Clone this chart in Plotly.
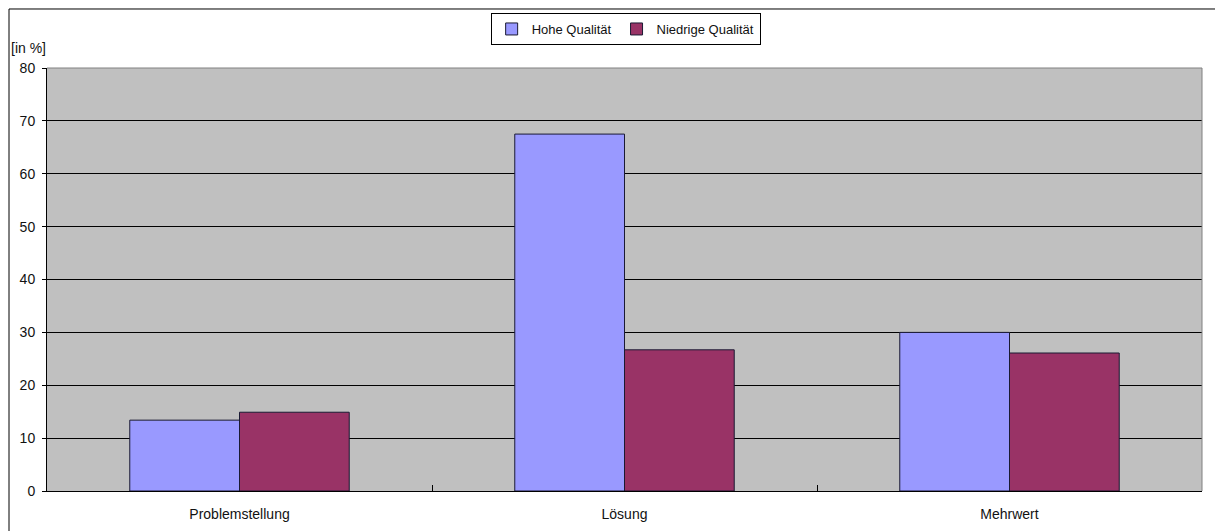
import plotly.graph_objects as go

categories = ["Problemstellung", "Lösung", "Mehrwert"]
hohe_qualitaet = [13.4, 67.5, 30.0]
niedrige_qualitaet = [14.9, 26.7, 26.1]
y_ticks = [0, 10, 20, 30, 40, 50, 60, 70, 80]

fig = go.Figure()
fig.add_trace(go.Bar(
    name="Hohe Qualität", x=categories, y=hohe_qualitaet,
    marker=dict(color="#9999FF", line=dict(color="#1a1a33", width=1)),
))
fig.add_trace(go.Bar(
    name="Niedrige Qualität", x=categories, y=niedrige_qualitaet,
    marker=dict(color="#993366", line=dict(color="#1a1a33", width=1)),
))

font = dict(family="Liberation Sans, Arial, sans-serif", size=14, color="#111111")

fig.update_layout(
    width=1215, height=531,
    margin=dict(l=47, r=13, t=68, b=40),
    paper_bgcolor="white",
    plot_bgcolor="#C0C0C0",
    barmode="group",
    bargap=0.43,
    bargroupgap=0,
    font=font,
    showlegend=True,
    legend=dict(
        orientation="h", x=0.501, xanchor="center", y=1.13, yanchor="top",
        bordercolor="#000000", borderwidth=1, bgcolor="white",
        font=dict(family="Liberation Sans, Arial, sans-serif", size=13, color="#111111"),
        itemwidth=30, tracegroupgap=0,
    ),
    xaxis=dict(
        type="category", tickson="boundaries", ticks="inside", ticklen=6,
        tickcolor="#000000", showgrid=False, showline=True, linecolor="#000000",
        linewidth=1, tickfont=font, ticklabelstandoff=10, automargin=False,
    ),
    yaxis=dict(
        range=[0, 80], tickvals=y_ticks, ticks="outside", ticklen=4,
        tickcolor="#000000", showgrid=True, gridcolor="#000000", gridwidth=1,
        showline=True, linecolor="#000000", linewidth=1, zeroline=False,
        tickfont=font, ticklabelstandoff=4, automargin=False,
    ),
    annotations=[dict(
        text="[in %]", xref="paper", yref="paper", x=-0.0329, y=1.047,
        xanchor="left", yanchor="middle", showarrow=False, font=font,
    )],
    shapes=[
        # light frame on the top and right of the plotting area
        dict(type="line", xref="paper", yref="paper", x0=0, x1=1, y0=1, y1=1,
             line=dict(color="#808080", width=1)),
        dict(type="line", xref="paper", yref="paper", x0=1, x1=1, y0=0, y1=1,
             line=dict(color="#808080", width=1)),
        # outer chart frame
        dict(type="line", xref="paper", yref="paper", x0=-0.0329, x1=1.02,
             y0=1.1395, y1=1.1395, line=dict(color="#000000", width=1)),
        dict(type="line", xref="paper", yref="paper", x0=-0.0329, x1=-0.0329,
             y0=-0.1, y1=1.1395, line=dict(color="#000000", width=1)),
    ],
)

fig.write_html("out.html")
